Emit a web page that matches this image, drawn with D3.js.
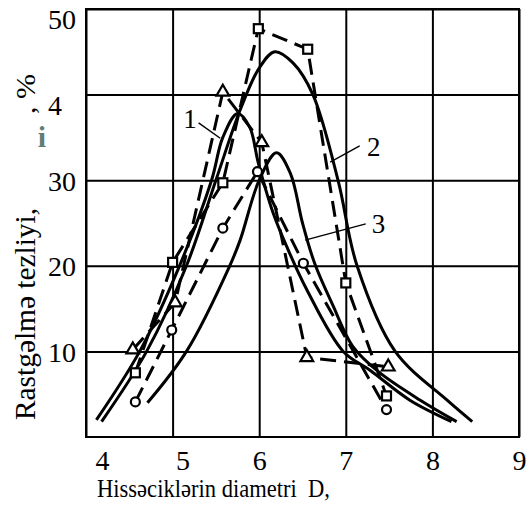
<!DOCTYPE html>
<html>
<head>
<meta charset="utf-8">
<style>
body { margin: 0; background: #fff; }
svg text { font-family: 'Liberation Serif', 'Times New Roman', 'DejaVu Serif', serif; fill: #000; }
.grid line { stroke: #000; stroke-width: 2px; }
.curve { fill: none; stroke: #000; stroke-width: 3px; }
.dashed { fill: none; stroke: #000; stroke-width: 3px; stroke-dasharray: 16, 8; }
.marker { fill: #fff; stroke: #000; stroke-width: 2.2px; }
.leader { stroke: #000; stroke-width: 1.4px; }
</style>
</head>
<body>
<script src="https://cdn.jsdelivr.net/npm/d3@7"></script>
<script>

// axes
var xTicks = [4, 5, 6, 7, 8, 9];
var yTicks = [10, 20, 30, 40, 50];
var yTickLabels = ["10", "20", "30", "4", "50"];

// measured points (dashed lines with markers)
var squareD = [4.57, 5.0, 5.58, 5.99, 6.56, 7.0, 7.47];
var squareF = [7.5, 20.4, 29.7, 47.7, 45.3, 18.0, 4.8];
var triangleD = [4.54, 5.03, 5.58, 6.03, 6.55, 7.49];
var triangleF = [10.2, 15.7, 40.3, 34.4, 9.3, 8.2];
var circleD = [4.57, 4.99, 5.58, 5.98, 6.51, 7.47];
var circleF = [4.1, 12.5, 24.4, 31.0, 20.3, 3.2];

// smooth curves 1, 2, 3
var curve1D = [4.12, 4.62, 5.08, 5.45, 5.58, 5.75, 5.89, 5.99, 6.16, 6.32, 6.55, 6.97, 7.28, 7.74, 8.22];
var curve1F = [2.0, 10, 20, 30, 35, 37.8, 36.2, 32, 26.2, 22.2, 17.2, 10, 7.8, 4.3, 1.8];
var curve2D = [4.18, 4.7, 5.16, 5.5, 5.78, 6.0, 6.18, 6.39, 6.62, 6.91, 7.13, 7.57, 8.17, 8.46];
var curve2F = [1.8, 10, 20, 30, 38.2, 43.1, 45, 43.7, 40, 30, 20, 10, 4.3, 1.8];
var curve3D = [4.71, 5.16, 5.66, 5.78, 6.0, 6.2, 6.36, 6.5, 6.64, 6.85, 7.08, 7.38, 7.86, 8.28];
var curve3F = [4.0, 10, 20, 23, 30, 33.2, 30.8, 25, 20.3, 15.4, 10.6, 7.6, 4.3, 1.8];

// curve labels and their leader lines
var curveNames = ["1", "2", "3"];
var labelD = [5.28, 7.245, 7.30];
var labelF = [36.1, 32.8, 23.8];
var leaderFromD = [5.30, 7.16, 7.23];
var leaderFromF = [36.7, 34.0, 24.9];
var leaderToD = [5.55, 6.82, 6.53];
var leaderToF = [34.9, 32.1, 23.0];

var width = 529,
    height = 508;
var plotLeft = 86, plotRight = 519, plotTop = 9, plotBottom = 437;
var serif = "'Liberation Serif', 'Times New Roman', 'DejaVu Serif', serif";

var svg = d3.select("body").append("svg")
    .attr("width", width)
    .attr("height", height);

var x = d3.scaleLinear().domain([4, 9]).range([plotLeft, plotRight]);
var y = d3.scaleLinear().domain([0, 50]).range([plotBottom, plotTop]);

function zip(a, b) {
  return a.map(function(d, i) { return [d, b[i]]; });
}

// grid + x tick labels
var xAxis = svg.append("g")
    .attr("class", "grid")
    .attr("transform", "translate(0," + plotBottom + ")")
    .call(d3.axisBottom(x).tickValues(xTicks).tickSize(-(plotBottom - plotTop)).tickFormat(d3.format("d")));
xAxis.attr("font-family", serif);
xAxis.select(".domain").remove();
xAxis.selectAll("text")
    .attr("y", 33)
    .attr("dy", null)
    .attr("dx", function(d, i) { return i === 0 ? 16 : (i === 1 ? 10 : 0); })
    .style("font-size", "28px");

var yAxis = svg.append("g")
    .attr("class", "grid")
    .attr("transform", "translate(" + plotLeft + ",0)")
    .call(d3.axisLeft(y).tickValues(yTicks).tickSize(-(plotRight - plotLeft))
      .tickFormat(function(d, i) { return yTickLabels[i]; }));
yAxis.attr("font-family", serif);
yAxis.select(".domain").remove();
yAxis.selectAll("text")
    .attr("x", -38)
    .attr("dy", function(d) { return d >= 40 ? "0.7em" : "0.36em"; })
    .style("text-anchor", "start")
    .style("font-size", "28px");

// frame
svg.append("rect")
    .attr("x", plotLeft).attr("y", plotTop)
    .attr("width", plotRight - plotLeft).attr("height", plotBottom - plotTop)
    .attr("fill", "none")
    .attr("stroke", "#000")
    .attr("stroke-width", 2);

var line = d3.line()
    .x(function(d) { return x(d[0]); })
    .y(function(d) { return y(d[1]); });

var smooth = d3.line()
    .curve(d3.curveCatmullRom.alpha(0.5))
    .x(function(d) { return x(d[0]); })
    .y(function(d) { return y(d[1]); });

// solid curves
[zip(curve1D, curve1F), zip(curve2D, curve2F), zip(curve3D, curve3F)].forEach(function(c) {
  svg.append("path").attr("class", "curve").attr("d", smooth(c));
});

// dashed lines
var squares = zip(squareD, squareF),
    triangles = zip(triangleD, triangleF),
    circles = zip(circleD, circleF);

[squares, triangles, circles].forEach(function(s) {
  svg.append("path").attr("class", "dashed").attr("d", line(s));
});

// markers
svg.append("g").selectAll("rect")
    .data(squares)
    .enter().append("rect")
    .attr("class", "marker")
    .attr("x", function(d) { return x(d[0]) - 4.5; })
    .attr("y", function(d) { return y(d[1]) - 4.5; })
    .attr("width", 9)
    .attr("height", 9);

var tri = d3.symbol().type(d3.symbolTriangle).size(70);
svg.append("g").selectAll("path")
    .data(triangles)
    .enter().append("path")
    .attr("class", "marker")
    .attr("d", tri)
    .attr("transform", function(d) { return "translate(" + x(d[0]) + "," + y(d[1]) + ")"; });

svg.append("g").selectAll("circle")
    .data(circles)
    .enter().append("circle")
    .attr("class", "marker")
    .attr("cx", function(d) { return x(d[0]); })
    .attr("cy", function(d) { return y(d[1]); })
    .attr("r", 4.5);

// curve labels
curveNames.forEach(function(name, i) {
  svg.append("line")
      .attr("class", "leader")
      .attr("x1", x(leaderFromD[i])).attr("y1", y(leaderFromF[i]))
      .attr("x2", x(leaderToD[i])).attr("y2", y(leaderToF[i]));
  svg.append("text")
      .attr("x", x(labelD[i]))
      .attr("y", y(labelF[i]))
      .attr("text-anchor", i === 0 ? "end" : "start")
      .style("font-size", "27px")
      .text(name);
});

// axis titles
svg.append("text")
    .attr("x", 97)
    .attr("y", 497)
    .attr("textLength", 233)
    .attr("lengthAdjust", "spacingAndGlyphs")
    .style("font-size", "26px")
    .style("white-space", "pre")
    .text("Hissəciklərin diametri  D,");

svg.append("text")
    .attr("transform", "translate(35,420) rotate(-90)")
    .attr("textLength", 212)
    .attr("lengthAdjust", "spacingAndGlyphs")
    .style("font-size", "29px")
    .text("Rastgəlmə tezliyi,");

svg.append("text")
    .attr("transform", "translate(35,114) rotate(-90)")
    .attr("textLength", 40)
    .attr("lengthAdjust", "spacingAndGlyphs")
    .style("font-size", "28px")
    .style("white-space", "pre")
    .text(", %");

// stray subscript glyph
svg.append("text")
    .attr("x", 42)
    .attr("y", 147)
    .attr("text-anchor", "middle")
    .style("font-size", "30px")
    .style("font-weight", "bold")
    .style("fill", "#5f7e78")
    .text("i");

svg.selectAll("text").style("font-family", serif);

</script>
</body>
</html>
